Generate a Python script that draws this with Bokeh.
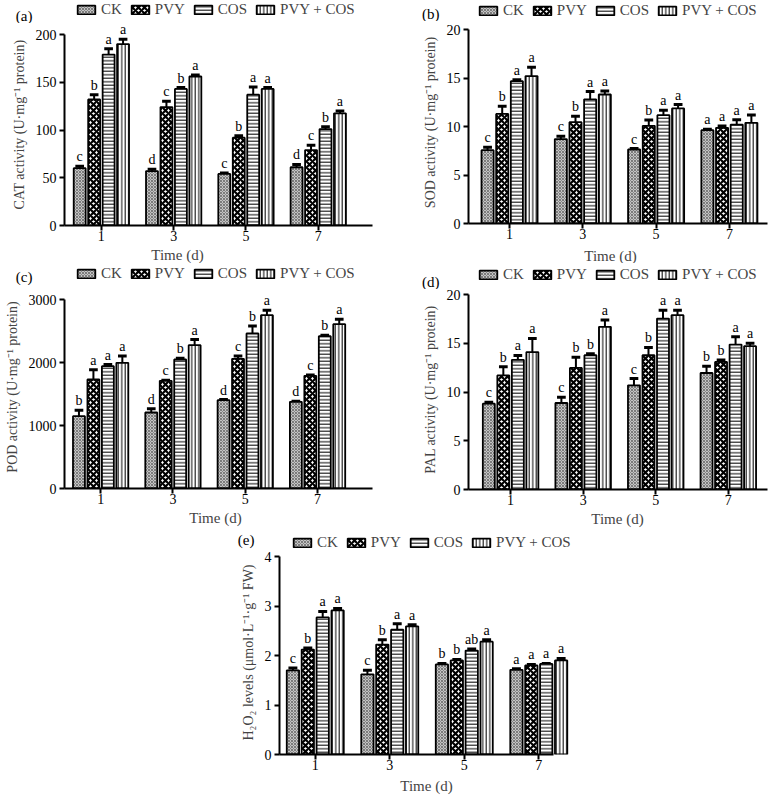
import numpy as np
from bokeh.plotting import figure
from bokeh.models import (Range1d, FixedTicker, Legend, LegendItem, Label, LabelSet,
                          ColumnDataSource, Spacer)
from bokeh.layouts import column, row
from bokeh.core.properties import value
from bokeh.embed import file_html
from bokeh.resources import INLINE

DAYS = ["1", "3", "5", "7"]
TREATMENTS = ["CK", "PVY", "COS", "PVY + COS"]

# rows: CK, PVY, COS, PVY + COS ; columns: day 1, 3, 5, 7
CAT_MEAN = [[60, 57, 54, 61], [132, 124, 92, 79], [179, 143, 137, 101], [190, 156, 143, 117.5]]
CAT_ERR = [[2, 2, 1, 3], [5, 6, 2, 5], [6, 1.5, 8, 2.5], [5, 1.5, 1.5, 2.5]]
CAT_LET = [["c", "d", "c", "d"], ["b", "c", "b", "c"], ["a", "b", "a", "b"], ["a", "a", "a", "a"]]

SOD_MEAN = [[7.56, 8.7, 7.63, 9.62], [11.3, 10.45, 10.07, 9.86], [14.67, 12.8, 11.17, 10.2], [15.2, 13.3, 11.86, 10.38]]
SOD_ERR = [[0.3, 0.3, 0.1, 0.1], [0.8, 0.6, 0.6, 0.2], [0.15, 0.8, 0.5, 0.5], [0.9, 0.35, 0.4, 0.8]]
SOD_LET = [["c", "c", "c", "a"], ["b", "b", "b", "a"], ["a", "a", "a", "a"], ["a", "a", "a", "a"]]

POD_MEAN = [[1148, 1206, 1402, 1376], [1730, 1709, 2058, 1788], [1942, 2048, 2460, 2418], [1995, 2275, 2751, 2608]]
POD_ERR = [[95, 60, 10, 10], [155, 10, 45, 15], [25, 20, 120, 15], [110, 90, 80, 80]]
POD_LET = [["b", "d", "d", "d"], ["a", "c", "c", "c"], ["a", "b", "b", "b"], ["a", "a", "a", "a"]]

PAL_MEAN = [[8.8, 8.87, 10.68, 11.95], [11.7, 12.47, 13.77, 13.08], [13.3, 13.77, 17.53, 14.86], [14.1, 16.68, 17.88, 14.7]]
PAL_ERR = [[0.15, 0.6, 0.7, 0.7], [0.9, 1.1, 0.8, 0.2], [0.45, 0.15, 0.85, 0.8], [1.4, 0.7, 0.5, 0.3]]
PAL_LET = [["c", "c", "c", "b"], ["b", "b", "b", "b"], ["a", "b", "a", "a"], ["a", "a", "a", "a"]]

H2O2_MEAN = [[1.70, 1.62, 1.82, 1.71], [2.12, 2.22, 1.90, 1.80], [2.77, 2.52, 2.10, 1.83], [2.91, 2.59, 2.28, 1.90]]
H2O2_ERR = [[0.05, 0.08, 0.02, 0.02], [0.03, 0.1, 0.02, 0.02], [0.12, 0.12, 0.03, 0.01], [0.04, 0.03, 0.04, 0.04]]
H2O2_LET = [["c", "c", "b", "a"], ["b", "b", "b", "a"], ["a", "a", "ab", "a"], ["a", "a", "a", "a"]]

FONT = "Liberation Serif"
OFFSETS = [-0.3, -0.1, 0.1, 0.3]
BAR_W = 0.165
CAP = 0.06
LEG_H = 12
XAX_H = 21  # space taken by x axis ticks + tick labels
TAG_W = 17

STYLES = [
    dict(fill_color="#c4c4c4", hatch_pattern="diagonal_cross", hatch_color="#6a6a6a", hatch_scale=3, hatch_weight=0.8),
    dict(fill_color="white", hatch_pattern="diagonal_cross", hatch_color="black", hatch_scale=6, hatch_weight=2.2),
    dict(fill_color="white", hatch_pattern="horizontal_line", hatch_color="black", hatch_scale=3.5, hatch_weight=1),
    dict(fill_color="white", hatch_pattern="vertical_line", hatch_color="black", hatch_scale=3.5, hatch_weight=1),
]


def style_axis(ax):
    ax.axis_line_width = 2
    ax.major_tick_line_width = 2
    ax.major_tick_out = 5
    ax.major_tick_in = 0
    ax.minor_tick_line_color = None
    ax.major_label_text_font = FONT
    ax.major_label_text_font_size = "14px"
    ax.major_label_text_color = "black"


def make_panel(mean, err, letters, ylabel, ymax, yticks, xr, xbounds, W, bl, br,
               hh, hm, hf, ytop, tag, tag_xy, leg_xy, time_xy):
    sources = []
    for k in range(len(TREATMENTS)):
        xs = [g + OFFSETS[k] for g in range(len(DAYS))]
        tops = mean[k]
        etop = [t + e for t, e in zip(tops, err[k])]
        sources.append(ColumnDataSource(dict(x=xs, top=tops, etop=etop, lab=letters[k],
                                             x0=[x - CAP for x in xs], x1=[x + CAP for x in xs])))

    # ---- header strip: panel tag (as a tick label at the left) + legend
    ph = figure(width=W, height=hh, x_range=Range1d(*xr), y_range=Range1d(0, hh),
                x_axis_type=None, output_backend="svg", toolbar_location=None,
                min_border_left=bl, min_border_right=br, min_border_top=0, min_border_bottom=0)
    ph.outline_line_color = None
    ph.grid.visible = False
    items = []
    for k, name in enumerate(TREATMENTS):
        # legend proxy: same glyph style; its bar tops are undefined so nothing is drawn in the strip
        proxy = ColumnDataSource(dict(x=np.array(sources[k].data["x"], dtype=float),
                                      top=np.full(len(DAYS), np.nan)))
        r = ph.vbar(x="x", top="top", bottom=0, width=BAR_W, source=proxy,
                    line_color="black", line_width=1.8, **STYLES[k])
        items.append(LegendItem(label=name, renderers=[r]))
    ph.add_layout(Legend(items=items, orientation="horizontal",
                         location=(leg_xy[0] - bl, hh - leg_xy[1] - LEG_H / 2),
                         label_text_font=FONT, label_text_font_size="15px",
                         glyph_width=22, glyph_height=11, label_standoff=4, spacing=7,
                         padding=0, margin=0, border_line_color=None, background_fill_alpha=0,
                         label_height=12))
    tag_y = hh - tag_xy[1]
    yax = ph.yaxis[0]
    yax.ticker = FixedTicker(ticks=[tag_y])
    yax.major_label_overrides = {tag_y: tag}
    yax.axis_line_color = None
    yax.major_tick_line_color = None
    yax.minor_tick_line_color = None
    yax.major_tick_out = 0
    yax.major_label_standoff = int(bl - tag_xy[0] - TAG_W)
    yax.major_label_text_font = FONT
    yax.major_label_text_font_size = "15px"
    yax.major_label_text_color = "black"

    # ---- main chart
    fh = hm - XAX_H
    y_end = ymax * fh / (fh - ytop)
    p = figure(width=W, height=hm, x_range=Range1d(*xr), y_range=Range1d(0, y_end),
               output_backend="svg", toolbar_location=None,
               min_border_left=bl, min_border_right=br, min_border_top=0, min_border_bottom=XAX_H)
    p.outline_line_color = None
    p.grid.visible = False
    for k in range(len(TREATMENTS)):
        src = sources[k]
        p.segment(x0="x", y0="top", x1="x", y1="etop", source=src, line_color="black", line_width=2)
        p.segment(x0="x0", y0="etop", x1="x1", y1="etop", source=src, line_color="black", line_width=3)
        p.vbar(x="x", top="top", bottom=0, width=BAR_W, source=src,
               line_color="black", line_width=1.8, **STYLES[k])
        p.add_layout(LabelSet(x="x", y="etop", text="lab", source=src, y_offset=2,
                              text_align="center", text_baseline="bottom",
                              text_font=value(FONT), text_font_size="14px", text_color="black"))
    style_axis(p.xaxis[0])
    style_axis(p.yaxis[0])
    p.xaxis.ticker = FixedTicker(ticks=list(range(len(DAYS))))
    p.xaxis.major_label_overrides = {i: d for i, d in enumerate(DAYS)}
    p.xaxis.major_label_standoff = 0
    p.xaxis.bounds = xbounds
    p.yaxis.ticker = FixedTicker(ticks=yticks)
    p.yaxis.bounds = (0, ymax)
    p.yaxis.major_label_standoff = 3
    p.yaxis.axis_label = ylabel
    p.yaxis.axis_label_text_font = FONT
    p.yaxis.axis_label_text_font_size = "14px"
    p.yaxis.axis_label_text_font_style = "normal"
    p.yaxis.axis_label_standoff = 6

    # ---- footer strip: x axis title
    pf = figure(width=W, height=hf, x_range=Range1d(*xr), y_range=Range1d(0, hf),
                x_axis_type=None, y_axis_type=None, output_backend="svg", toolbar_location=None,
                min_border_left=bl, min_border_right=br, min_border_top=0, min_border_bottom=0)
    pf.outline_line_color = None
    pf.grid.visible = False
    pf.add_layout(Label(x=time_xy[0] - bl, y=hf - time_xy[1], x_units="screen", y_units="screen",
                        text="Time (d)", text_font=FONT, text_font_size="15px",
                        text_baseline="middle", text_align="center"))
    return column(ph, p, pf)


pa = make_panel(CAT_MEAN, CAT_ERR, CAT_LET, "CAT activity (U·mg⁻¹ protein)", 200, [0, 50, 100, 150, 200],
                (-0.51, 3.75), (-0.51, 3.75), 390, 64, 18, 23, 223, 17, 11,
                "(a)", (15, 15), (75, 12), (177, 8))
pb = make_panel(SOD_MEAN, SOD_ERR, SOD_LET, "SOD activity (U·mg⁻¹ protein)", 20, [0, 5, 10, 15, 20],
                (-0.56, 3.52), (-0.56, 3.52), 383, 78, 6, 21, 223, 19, 8,
                "(b)", (32, 13), (87, 13), (220, 11))
pc = make_panel(POD_MEAN, POD_ERR, POD_LET, "POD activity (U·mg⁻¹ protein)", 3000, [0, 1000, 2000, 3000],
                (-0.50, 3.76), (-0.50, 3.76), 390, 64, 18, 22, 224, 21, 14,
                "(c)", (15, 13), (75, 13), (215, 8))
pd_ = make_panel(PAL_MEAN, PAL_ERR, PAL_LET, "PAL activity (U·mg⁻¹ protein)", 20, [0, 5, 10, 15, 20],
                 (-0.58, 3.54), (-0.58, 3.54), 383, 78, 6, 26, 221, 20, 5,
                 "(d)", (32, 18), (87, 14), (227, 8))
pe = make_panel(H2O2_MEAN, H2O2_ERR, H2O2_LET, "H₂O₂ levels (μmol·L⁻¹·g⁻¹ FW)", 4, [0, 1, 2, 3, 4],
                (-0.48, 3.56), (-0.48, 3.2), 400, 79, 20, 20, 225, 22, 6,
                "(e)", (37, 7), (91, 15), (226, 10))

layout = column(row(pa, pb), row(pc, pd_), row(Spacer(width=200, height=267), pe))

with open("out.html", "w") as f:
    f.write(file_html(layout, INLINE))
